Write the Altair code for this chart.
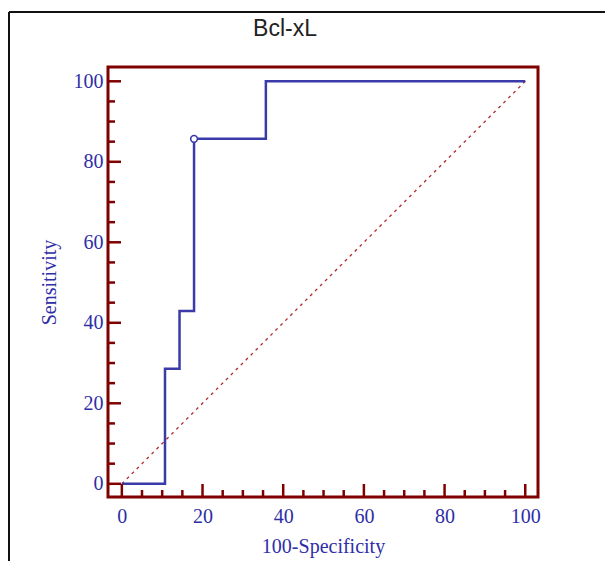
import altair as alt
import pandas as pd

# ROC curve data (100-Specificity, Sensitivity)
fpr = [0, 10.7, 14.3, 17.9, 35.7, 100]
tpr = [0, 28.6, 42.9, 85.7, 100, 100]
# Criterion point (open circle)
crit_x = [17.9]
crit_y = [85.7]
# Reference diagonal
diag_x = [0, 100]
diag_y = [0, 100]
# Axis ticks
major_ticks = [0, 20, 40, 60, 80, 100]
minor_ticks = [5, 10, 15, 25, 30, 35, 45, 50, 55, 65, 70, 75, 85, 90, 95]
title_text = "Bcl-xL"

W, H = 430, 430
FRAME = "#800000"
BLUE = "#3a3aa8"
TXT = "#2e2ea6"
SERIF = "Liberation Serif"

xs = alt.Scale(domain=[-3.43, 103.16], nice=False, zero=False)
ys = alt.Scale(domain=[-3.28, 103.55], nice=False, zero=False)

roc_df = pd.DataFrame({"x": fpr, "y": tpr})
crit_df = pd.DataFrame({"x": crit_x, "y": crit_y})
diag_df = pd.DataFrame({"x": diag_x, "y": diag_y})
maj_df = pd.DataFrame({"v": major_ticks})
min_df = pd.DataFrame({"v": minor_ticks})
dummy = pd.DataFrame({"d": [0]})
title_df = pd.DataFrame({"t": [title_text]})

x_axis = alt.Axis(values=major_ticks, ticks=False, domain=False, grid=False,
                  labelFont=SERIF, labelFontSize=20, labelColor=TXT, labelPadding=9,
                  title="100-Specificity", titleFont=SERIF, titleFontSize=20,
                  titleFontWeight="normal", titleColor=TXT, titlePadding=10)
y_axis = alt.Axis(values=major_ticks, ticks=False, domain=False, grid=False,
                  labelFont=SERIF, labelFontSize=20, labelColor=TXT, labelPadding=5,
                  title="Sensitivity", titleFont=SERIF, titleFontSize=20,
                  titleFontWeight="normal", titleColor=TXT, titlePadding=14)

diag = alt.Chart(diag_df).mark_line(color="#b02828", strokeWidth=1.3, strokeDash=[3, 4]).encode(
    x=alt.X("x:Q", scale=xs, axis=x_axis),
    y=alt.Y("y:Q", scale=ys, axis=y_axis),
)

roc = alt.Chart(roc_df).mark_line(color=BLUE, strokeWidth=2.5, interpolate="step-after").encode(
    x=alt.X("x:Q", scale=xs),
    y=alt.Y("y:Q", scale=ys),
)

crit = alt.Chart(crit_df).mark_point(shape="circle", size=45, filled=True, fill="white",
                                      stroke=BLUE, strokeWidth=1.6, opacity=1).encode(
    x=alt.X("x:Q", scale=xs),
    y=alt.Y("y:Q", scale=ys),
)

# inward ticks on x (bottom) and y (left)
xmaj = alt.Chart(maj_df).mark_rule(color=FRAME, strokeWidth=2.5).encode(
    x=alt.X("v:Q", scale=xs), y=alt.value(H), y2=alt.value(H - 13))
xmin = alt.Chart(min_df).mark_rule(color=FRAME, strokeWidth=2.5).encode(
    x=alt.X("v:Q", scale=xs), y=alt.value(H), y2=alt.value(H - 7))
ymaj = alt.Chart(maj_df).mark_rule(color=FRAME, strokeWidth=2.5).encode(
    y=alt.Y("v:Q", scale=ys), x=alt.value(0), x2=alt.value(13))
ymin = alt.Chart(min_df).mark_rule(color=FRAME, strokeWidth=2.5).encode(
    y=alt.Y("v:Q", scale=ys), x=alt.value(0), x2=alt.value(7))

# outer figure border (left and top edges)
bleft = alt.Chart(dummy).mark_rule(color="#111111", strokeWidth=2, clip=False).encode(
    x=alt.value(-99), y=alt.value(-55), y2=alt.value(H + 74))
btop = alt.Chart(dummy).mark_rule(color="#111111", strokeWidth=2, clip=False).encode(
    y=alt.value(-55), x=alt.value(-99), x2=alt.value(W + 74))

title = alt.Chart(title_df).mark_text(font="Liberation Sans", fontSize=23, color="#222222",
                                      align="center", baseline="alphabetic", clip=False).encode(
    text="t:N", x=alt.value(177), y=alt.value(-31))

chart = alt.layer(diag, roc, crit, xmaj, xmin, ymaj, ymin, bleft, btop, title).properties(
    width=W, height=H,
    autosize=alt.AutoSizeParams(type="none"),
    padding={"left": 100, "top": 59, "right": 67, "bottom": 64},
).configure(background="white", view=alt.ViewConfig(stroke=FRAME, strokeWidth=3))

chart.save("out.html", embed_options={"renderer": "svg", "actions": False})
